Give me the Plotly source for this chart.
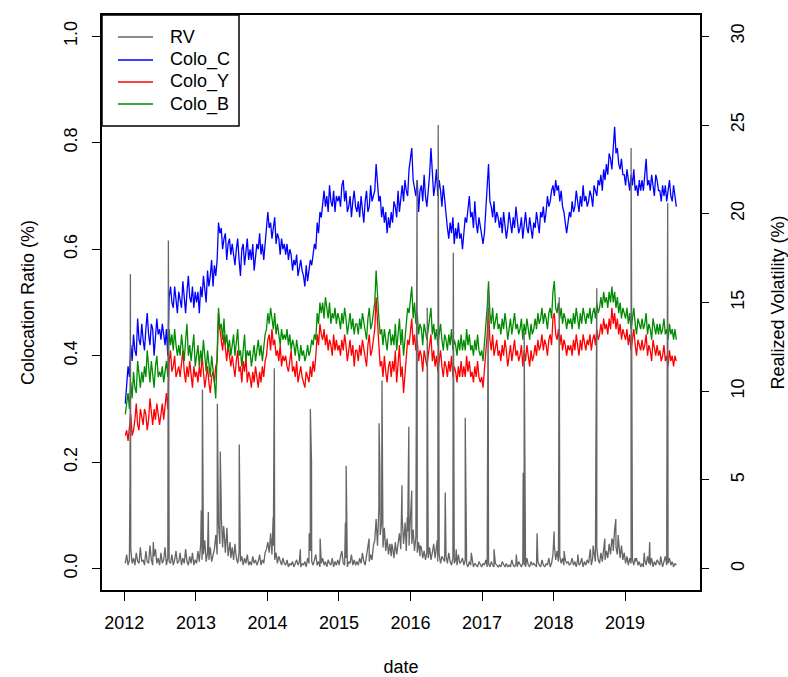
import pandas as pd
import plotly.graph_objects as go

# weekly observation dates (Fridays), 2012-01-06 .. 2019-09-20
dates = pd.date_range("2012-01-06", periods=403, freq="7D")

# Colocation ratio, Colo_C (13 weekly values per quarter, 2012Q1 .. 2019Q3)
colo_c = [
    0.31, 0.35, 0.38, 0.36, 0.42, 0.39, 0.44, 0.41, 0.40, 0.47, 0.43, 0.42, 0.46,
    0.43, 0.41, 0.45, 0.48, 0.44, 0.42, 0.46, 0.45, 0.40, 0.43, 0.47, 0.44, 0.45,
    0.43, 0.46, 0.44, 0.42, 0.45, 0.40, 0.51, 0.53, 0.50, 0.49, 0.53, 0.51, 0.48,
    0.52, 0.50, 0.49, 0.54, 0.51, 0.48, 0.52, 0.55, 0.51, 0.50, 0.53, 0.49, 0.52,
    0.50, 0.52, 0.48, 0.53, 0.51, 0.55, 0.52, 0.50, 0.56, 0.53, 0.55, 0.58, 0.53,
    0.57, 0.55, 0.58, 0.65, 0.63, 0.64, 0.60, 0.62, 0.63, 0.58, 0.61, 0.62, 0.59,
    0.61, 0.59, 0.57, 0.60, 0.62, 0.58, 0.55, 0.60, 0.61, 0.57, 0.59, 0.62, 0.58,
    0.60, 0.58, 0.61, 0.56, 0.59, 0.61, 0.60, 0.63, 0.59, 0.61, 0.58, 0.62, 0.64,
    0.67, 0.64, 0.65, 0.62, 0.64, 0.66, 0.61, 0.63, 0.62, 0.59, 0.62, 0.60, 0.61,
    0.59, 0.61, 0.58, 0.60, 0.59, 0.56, 0.58, 0.57, 0.59, 0.55, 0.57, 0.58, 0.56,
    0.55, 0.53, 0.57, 0.54, 0.56, 0.58, 0.57, 0.59, 0.61, 0.60, 0.65, 0.63, 0.67,
    0.66, 0.69, 0.71, 0.68, 0.70, 0.67, 0.72, 0.69, 0.68, 0.71, 0.67, 0.70, 0.69,
    0.70, 0.68, 0.72, 0.73, 0.69, 0.71, 0.67, 0.68, 0.70, 0.66, 0.69, 0.71, 0.68,
    0.67, 0.69, 0.66, 0.70, 0.68, 0.65, 0.69, 0.71, 0.67, 0.68, 0.72, 0.69, 0.70,
    0.71, 0.76, 0.72, 0.69, 0.70, 0.66, 0.68, 0.65, 0.67, 0.63, 0.66, 0.64, 0.67,
    0.65, 0.69, 0.68, 0.66, 0.71, 0.67, 0.70, 0.72, 0.69, 0.73, 0.71, 0.70, 0.75,
    0.77, 0.79, 0.73, 0.71, 0.70, 0.73, 0.67, 0.71, 0.72, 0.69, 0.74, 0.70, 0.68,
    0.71, 0.74, 0.79, 0.73, 0.70, 0.72, 0.75, 0.70, 0.73, 0.71, 0.68, 0.72, 0.69,
    0.67, 0.64, 0.62, 0.65, 0.63, 0.66, 0.61, 0.64, 0.62, 0.65, 0.62, 0.63, 0.60,
    0.63, 0.66, 0.65, 0.68, 0.70, 0.66, 0.67, 0.64, 0.69, 0.65, 0.63, 0.66, 0.64,
    0.62, 0.61, 0.63, 0.67, 0.70, 0.76, 0.69, 0.68, 0.66, 0.69, 0.65, 0.67, 0.66,
    0.64, 0.66, 0.63, 0.67, 0.65, 0.62, 0.64, 0.67, 0.65, 0.63, 0.66, 0.64, 0.68,
    0.66, 0.63, 0.64, 0.66, 0.62, 0.65, 0.67, 0.64, 0.63, 0.66, 0.64, 0.62, 0.65,
    0.64, 0.67, 0.65, 0.63, 0.67, 0.66, 0.68, 0.65, 0.67, 0.70, 0.68, 0.69, 0.71,
    0.72, 0.70, 0.73, 0.71, 0.72, 0.69, 0.71, 0.68, 0.67, 0.65, 0.63, 0.65, 0.67,
    0.66, 0.69, 0.67, 0.68, 0.71, 0.69, 0.67, 0.70, 0.68, 0.72, 0.69, 0.70, 0.68,
    0.69, 0.71, 0.70, 0.68, 0.72, 0.71, 0.70, 0.73, 0.72, 0.74, 0.71, 0.75, 0.73,
    0.76, 0.74, 0.78, 0.77, 0.75, 0.79, 0.83, 0.78, 0.79, 0.76, 0.75, 0.77, 0.74,
    0.74, 0.72, 0.75, 0.73, 0.71, 0.74, 0.72, 0.75, 0.71, 0.72, 0.70, 0.73, 0.71,
    0.73, 0.71, 0.74, 0.77, 0.72, 0.73, 0.71, 0.74, 0.72, 0.70, 0.74, 0.73, 0.71,
    0.71, 0.69, 0.72, 0.70, 0.72, 0.69, 0.71, 0.73, 0.70, 0.69, 0.72, 0.70, 0.68,
]

# Colo_Y
colo_y = [
    0.25, 0.26, 0.24, 0.27, 0.29, 0.25, 0.26, 0.28, 0.31, 0.27, 0.26, 0.30, 0.28,
    0.27, 0.30, 0.29, 0.26, 0.28, 0.32, 0.29, 0.27, 0.30, 0.28, 0.31, 0.29, 0.27,
    0.29, 0.31, 0.28, 0.30, 0.33, 0.30, 0.39, 0.41, 0.37, 0.38, 0.40, 0.36, 0.37,
    0.38, 0.36, 0.39, 0.41, 0.37, 0.35, 0.38, 0.36, 0.39, 0.37, 0.34, 0.38, 0.36,
    0.37, 0.35, 0.38, 0.36, 0.40, 0.37, 0.34, 0.36, 0.38, 0.35, 0.33, 0.36, 0.37,
    0.35, 0.38, 0.39, 0.48, 0.45, 0.43, 0.41, 0.44, 0.42, 0.39, 0.42, 0.40, 0.38,
    0.40, 0.38, 0.36, 0.39, 0.41, 0.37, 0.38, 0.35, 0.39, 0.37, 0.40, 0.35, 0.37,
    0.36, 0.34, 0.37, 0.35, 0.38, 0.36, 0.34, 0.37, 0.35, 0.38, 0.36, 0.39, 0.40,
    0.43, 0.44, 0.41, 0.45, 0.42, 0.43, 0.40, 0.41, 0.39, 0.42, 0.38, 0.40, 0.39,
    0.40, 0.38, 0.37, 0.39, 0.41, 0.37, 0.38, 0.36, 0.39, 0.35, 0.37, 0.38, 0.36,
    0.35, 0.34, 0.37, 0.36, 0.35, 0.38, 0.36, 0.39, 0.37, 0.40, 0.44, 0.42, 0.46,
    0.44, 0.43, 0.45, 0.42, 0.44, 0.41, 0.43, 0.42, 0.40, 0.44, 0.41, 0.43, 0.41,
    0.42, 0.40, 0.43, 0.41, 0.44, 0.42, 0.39, 0.41, 0.43, 0.40, 0.42, 0.38, 0.41,
    0.41, 0.39, 0.42, 0.40, 0.43, 0.41, 0.40, 0.38, 0.42, 0.44, 0.40, 0.41, 0.43,
    0.45, 0.51, 0.45, 0.42, 0.38, 0.39, 0.36, 0.40, 0.37, 0.35, 0.38, 0.39, 0.36,
    0.39, 0.37, 0.41, 0.35, 0.39, 0.42, 0.36, 0.38, 0.33, 0.37, 0.40, 0.43, 0.42,
    0.45, 0.47, 0.42, 0.44, 0.41, 0.43, 0.39, 0.41, 0.40, 0.37, 0.41, 0.39, 0.38,
    0.40, 0.42, 0.44, 0.39, 0.41, 0.38, 0.40, 0.37, 0.39, 0.41, 0.38, 0.36, 0.39,
    0.38, 0.36, 0.39, 0.37, 0.40, 0.36, 0.38, 0.37, 0.35, 0.38, 0.36, 0.39, 0.36,
    0.38, 0.36, 0.40, 0.37, 0.39, 0.36, 0.37, 0.35, 0.38, 0.36, 0.39, 0.36, 0.35,
    0.36, 0.34, 0.37, 0.41, 0.44, 0.49, 0.43, 0.41, 0.44, 0.40, 0.42, 0.43, 0.40,
    0.41, 0.39, 0.42, 0.40, 0.43, 0.41, 0.38, 0.40, 0.42, 0.39, 0.41, 0.43, 0.40,
    0.41, 0.39, 0.40, 0.42, 0.38, 0.41, 0.39, 0.42, 0.40, 0.38, 0.41, 0.39, 0.40,
    0.42, 0.40, 0.43, 0.41, 0.42, 0.44, 0.41, 0.43, 0.42, 0.40, 0.43, 0.44, 0.42,
    0.47, 0.48, 0.44, 0.43, 0.45, 0.42, 0.44, 0.41, 0.43, 0.42, 0.40, 0.42, 0.41,
    0.42, 0.40, 0.43, 0.41, 0.44, 0.42, 0.40, 0.43, 0.41, 0.44, 0.42, 0.41, 0.43,
    0.42, 0.44, 0.41, 0.43, 0.44, 0.42, 0.45, 0.43, 0.44, 0.46, 0.44, 0.47, 0.45,
    0.46, 0.44, 0.47, 0.45, 0.49, 0.46, 0.48, 0.45, 0.47, 0.44, 0.46, 0.43, 0.45,
    0.44, 0.43, 0.45, 0.42, 0.44, 0.41, 0.43, 0.45, 0.42, 0.40, 0.43, 0.42, 0.41,
    0.43, 0.41, 0.42, 0.44, 0.40, 0.42, 0.41, 0.39, 0.43, 0.41, 0.40, 0.42, 0.40,
    0.41, 0.39, 0.40, 0.42, 0.39, 0.40, 0.38, 0.41, 0.39, 0.40, 0.38, 0.40, 0.39,
]

# Colo_B
colo_b = [
    0.29, 0.31, 0.33, 0.30, 0.35, 0.32, 0.37, 0.34, 0.33, 0.39, 0.36, 0.34, 0.37,
    0.35, 0.38, 0.36, 0.41, 0.37, 0.35, 0.39, 0.36, 0.34, 0.38, 0.40, 0.36, 0.37,
    0.36, 0.38, 0.35, 0.37, 0.39, 0.36, 0.45, 0.42, 0.44, 0.41, 0.45, 0.42, 0.40,
    0.42, 0.40, 0.44, 0.41, 0.39, 0.43, 0.46, 0.40, 0.42, 0.39, 0.41, 0.44, 0.38,
    0.40, 0.42, 0.38, 0.41, 0.39, 0.43, 0.40, 0.37, 0.41, 0.39, 0.36, 0.40, 0.38,
    0.35, 0.32, 0.41, 0.49, 0.45, 0.46, 0.43, 0.47, 0.42, 0.44, 0.41, 0.43, 0.40,
    0.42, 0.44, 0.40, 0.43, 0.45, 0.40, 0.41, 0.38, 0.42, 0.44, 0.39, 0.41, 0.40,
    0.41, 0.38, 0.40, 0.42, 0.39, 0.41, 0.43, 0.40, 0.42, 0.39, 0.42, 0.44, 0.45,
    0.48, 0.46, 0.49, 0.47, 0.45, 0.48, 0.44, 0.46, 0.44, 0.42, 0.45, 0.43, 0.44,
    0.43, 0.45, 0.42, 0.44, 0.41, 0.43, 0.42, 0.40, 0.43, 0.41, 0.39, 0.42, 0.40,
    0.41, 0.39, 0.40, 0.42, 0.40, 0.41, 0.43, 0.42, 0.44, 0.43, 0.48, 0.46, 0.50,
    0.48, 0.50, 0.47, 0.51, 0.49, 0.47, 0.50, 0.46, 0.48, 0.47, 0.49, 0.46, 0.48,
    0.47, 0.45, 0.48, 0.46, 0.49, 0.47, 0.44, 0.46, 0.48, 0.45, 0.47, 0.44, 0.46,
    0.46, 0.44, 0.47, 0.45, 0.48, 0.46, 0.45, 0.43, 0.47, 0.49, 0.45, 0.46, 0.48,
    0.50, 0.56, 0.50, 0.47, 0.44, 0.45, 0.42, 0.45, 0.43, 0.41, 0.44, 0.45, 0.42,
    0.44, 0.42, 0.46, 0.41, 0.44, 0.47, 0.42, 0.45, 0.40, 0.43, 0.46, 0.49, 0.48,
    0.50, 0.53, 0.47, 0.50, 0.46, 0.48, 0.44, 0.46, 0.45, 0.42, 0.46, 0.44, 0.43,
    0.45, 0.47, 0.49, 0.44, 0.46, 0.43, 0.45, 0.42, 0.44, 0.46, 0.43, 0.41, 0.44,
    0.43, 0.41, 0.44, 0.42, 0.45, 0.41, 0.43, 0.42, 0.40, 0.43, 0.41, 0.44, 0.41,
    0.43, 0.41, 0.45, 0.42, 0.44, 0.41, 0.42, 0.40, 0.43, 0.41, 0.44, 0.41, 0.40,
    0.41, 0.39, 0.42, 0.46, 0.49, 0.54, 0.48, 0.46, 0.49, 0.45, 0.47, 0.48, 0.45,
    0.46, 0.44, 0.47, 0.45, 0.48, 0.46, 0.43, 0.45, 0.47, 0.44, 0.46, 0.48, 0.45,
    0.46, 0.44, 0.45, 0.47, 0.43, 0.46, 0.44, 0.47, 0.45, 0.43, 0.46, 0.44, 0.45,
    0.47, 0.45, 0.48, 0.46, 0.47, 0.49, 0.46, 0.48, 0.47, 0.45, 0.48, 0.49, 0.47,
    0.52, 0.54, 0.49, 0.48, 0.50, 0.47, 0.49, 0.46, 0.48, 0.47, 0.45, 0.47, 0.46,
    0.47, 0.45, 0.48, 0.46, 0.49, 0.47, 0.45, 0.48, 0.46, 0.49, 0.47, 0.46, 0.48,
    0.47, 0.49, 0.46, 0.48, 0.49, 0.47, 0.50, 0.48, 0.49, 0.51, 0.49, 0.52, 0.50,
    0.51, 0.49, 0.52, 0.50, 0.53, 0.50, 0.52, 0.49, 0.51, 0.48, 0.50, 0.47, 0.49,
    0.48, 0.47, 0.49, 0.46, 0.48, 0.45, 0.47, 0.49, 0.46, 0.44, 0.47, 0.46, 0.45,
    0.47, 0.45, 0.46, 0.48, 0.44, 0.46, 0.45, 0.43, 0.47, 0.45, 0.44, 0.46, 0.44,
    0.46, 0.44, 0.45, 0.47, 0.44, 0.45, 0.43, 0.46, 0.44, 0.45, 0.43, 0.45, 0.43,
]

# Realized volatility (%) weekly background level
rv_base = [
    0.3, 0.8, 0.2, 0.5, 1.1, 0.3, 0.6, 0.2, 0.9, 0.4, 0.3, 1.2, 0.4,
    0.5, 0.2, 1.0, 0.4, 0.3, 1.3, 0.5, 0.2, 0.7, 1.1, 0.3, 0.6, 0.2,
    0.9, 0.3, 0.5, 1.2, 0.2, 0.6, 0.4, 0.3, 0.8, 0.2, 0.5, 1.0, 0.3,
    0.4, 0.9, 0.2, 0.6, 0.3, 1.1, 0.4, 0.2, 0.7, 0.3, 0.9, 0.2, 0.5,
    0.3, 1.0, 0.4, 1.4, 0.5, 0.8, 1.6, 0.4, 0.9, 0.5, 1.2, 0.4, 0.8,
    1.1, 1.9, 0.8, 2.5, 1.4, 3.0, 1.2, 2.2, 0.9, 1.8, 0.7, 1.4, 0.6,
    1.2, 0.5, 1.4, 0.6, 0.3, 0.9, 0.4, 0.7, 0.2, 0.6, 0.3, 0.8, 0.2,
    0.4, 0.2, 0.7, 0.3, 0.5, 0.2, 0.4, 0.8, 0.2, 0.5, 0.3, 0.9, 1.1,
    1.5, 0.9, 2.0, 0.8, 1.3, 0.5, 0.9, 0.3, 0.7, 0.4, 0.2, 0.6, 0.3,
    0.2, 0.5, 0.1, 0.3, 0.2, 0.4, 0.1, 0.3, 0.5, 0.2, 0.4, 0.1, 0.3,
    0.2, 0.4, 0.1, 0.6, 0.3, 1.0, 0.4, 0.2, 0.5, 0.8, 0.2, 0.4, 0.1,
    0.3, 0.6, 0.2, 0.4, 0.1, 0.5, 0.3, 0.2, 0.6, 0.1, 0.4, 0.2, 0.5,
    0.2, 0.7, 1.0, 0.3, 0.2, 0.6, 0.1, 0.4, 0.3, 0.8, 0.2, 0.5, 0.2,
    0.4, 0.2, 0.6, 0.3, 0.9, 0.4, 0.2, 0.7, 1.1, 0.4, 0.8, 0.5, 1.3,
    1.6, 2.8, 1.3, 3.4, 1.9, 2.6, 1.2, 2.3, 1.0, 1.7, 0.8, 1.4, 0.7,
    1.2, 0.6, 1.5, 0.8, 1.3, 2.0, 1.1, 2.9, 1.4, 2.4, 1.0, 2.1, 1.3,
    2.6, 1.4, 2.2, 1.0, 1.8, 0.9, 1.5, 0.7, 1.2, 0.6, 1.0, 0.5, 0.9,
    0.6, 1.2, 0.5, 0.9, 1.4, 0.6, 1.1, 0.4, 0.8, 0.3, 0.7, 0.5, 0.4,
    0.7, 0.3, 0.9, 0.4, 0.2, 0.6, 0.3, 0.5, 0.2, 0.8, 0.3, 0.4, 0.6,
    0.2, 0.5, 0.3, 0.1, 0.4, 0.2, 0.6, 0.1, 0.3, 0.2, 0.1, 0.4, 0.2,
    0.1, 0.3, 0.2, 0.5, 0.1, 0.3, 0.1, 0.4, 0.2, 0.1, 0.3, 0.2, 0.1,
    0.2, 0.1, 0.4, 0.2, 0.1, 0.3, 0.1, 0.2, 0.1, 0.5, 0.2, 0.1, 0.3,
    0.1, 0.4, 0.2, 0.1, 0.3, 0.2, 0.1, 0.6, 0.2, 0.1, 0.4, 0.2, 0.3,
    0.2, 0.1, 0.4, 0.2, 0.1, 0.5, 0.2, 0.1, 0.3, 0.2, 0.6, 0.1, 0.3,
    0.8, 1.3, 0.5, 1.0, 0.4, 0.7, 0.3, 0.6, 0.2, 0.5, 0.3, 0.4, 0.2,
    0.3, 0.6, 0.2, 0.4, 0.1, 0.5, 0.2, 0.3, 0.6, 0.1, 0.4, 0.2, 0.5,
    0.3, 0.8, 0.2, 0.6, 1.0, 0.4, 1.2, 0.5, 0.3, 0.9, 0.4, 1.1, 0.5,
    1.0, 0.6, 1.4, 0.8, 1.7, 1.0, 2.2, 1.2, 0.8, 1.6, 0.6, 1.3, 0.5,
    0.9, 0.3, 0.7, 0.2, 0.6, 0.3, 0.5, 0.2, 0.4, 0.6, 0.2, 0.4, 0.1,
    0.3, 0.1, 0.5, 0.2, 0.7, 0.3, 0.2, 0.6, 0.1, 0.4, 0.2, 0.5, 0.3,
    0.2, 0.5, 0.1, 0.4, 0.7, 0.2, 0.3, 0.6, 0.2, 0.4, 0.1, 0.3, 0.2,
]

# Realized volatility daily spikes
rv_spike_dates = [
    "2012-01-30", "2012-02-01", "2012-05-28", "2012-08-13",
    "2013-01-28", "2013-02-03", "2013-03-05", "2013-04-20", "2013-05-05",
    "2013-05-10", "2013-05-22", "2013-06-08", "2013-06-24", "2013-08-10",
    "2014-01-30", "2014-02-05", "2014-06-18", "2014-08-02", "2014-08-08",
    "2014-08-14", "2014-09-27", "2015-02-03", "2015-02-07", "2015-06-04",
    "2015-07-25", "2015-07-29", "2015-08-09", "2015-08-25", "2015-09-10",
    "2015-09-28", "2015-11-19", "2015-12-05", "2015-12-16", "2015-12-24",
    "2016-01-08", "2016-02-04", "2016-02-20", "2016-03-27", "2016-05-17",
    "2016-05-22", "2016-06-27", "2016-08-07", "2016-08-22", "2016-10-07",
    "2016-11-07", "2017-02-01", "2017-03-03", "2017-06-25", "2017-07-30",
    "2017-08-04", "2017-10-09", "2018-01-04", "2018-01-30", "2018-02-24",
    "2018-05-05", "2018-07-08", "2018-07-22", "2018-08-05", "2018-08-10",
    "2018-09-20", "2018-10-30", "2018-11-15", "2018-11-27", "2019-02-01",
    "2019-02-21", "2019-04-09", "2019-05-07", "2019-07-02", "2019-08-02",
    "2019-08-07",
]
rv_spike_vals = [
    5.0, 16.6, 1.5, 18.5,
    3.3, 10.1, 3.2, 9.3, 6.6,
    3.7, 2.4, 2.3, 1.5, 7.0,
    2.9, 11.3, 1.1, 2.0, 9.0,
    6.0, 1.7, 2.6, 5.8, 1.7,
    8.2, 5.8, 10.6, 1.5, 1.2,
    1.4, 4.7, 2.6, 2.9, 8.0,
    4.4, 21.9, 1.3, 14.7, 1.6,
    25.0, 4.3, 17.8, 1.1, 8.5,
    0.9, 15.7, 1.1, 0.8, 5.4,
    13.3, 2.0, 2.1, 15.3, 1.0,
    0.8, 1.1, 1.3, 6.2, 15.8,
    1.7, 1.6, 2.8, 1.9, 23.7,
    0.6, 0.9, 1.5, 0.7, 1.9,
    20.6,
]

# legend entries (drawn as a boxed key in the top-left corner)
legend_names = ["RV", "Colo_C", "Colo_Y", "Colo_B"]
legend_colors = ["#666666", "#0000FF", "#FF0000", "#008B00"]

rv_df = pd.concat([
    pd.DataFrame({"date": dates, "rv": rv_base}),
    pd.DataFrame({"date": pd.to_datetime(rv_spike_dates), "rv": rv_spike_vals}),
]).sort_values("date")

FONT = "Liberation Sans, Arial, Helvetica, sans-serif"
FS = 18
LW = 1.3
W, H = 788, 677
ML, MR, MT, MB = 102, 88, 15, 87
PW, PH = W - ML - MR, H - MT - MB


def px_x(px):
    return (px - ML) / PW


def px_y(py):
    return (H - MB - py) / PH


fig = go.Figure()
fig.add_trace(go.Scatter(x=dates, y=colo_c, mode="lines", name="Colo_C",
                         line=dict(color=legend_colors[1], width=LW)))
fig.add_trace(go.Scatter(x=dates, y=colo_y, mode="lines", name="Colo_Y",
                         line=dict(color=legend_colors[2], width=LW)))
fig.add_trace(go.Scatter(x=dates, y=colo_b, mode="lines", name="Colo_B",
                         line=dict(color=legend_colors[3], width=LW)))
fig.add_trace(go.Scatter(x=rv_df["date"], y=rv_df["rv"], mode="lines", name="RV",
                         line=dict(color=legend_colors[0], width=LW), yaxis="y2"))

# legend key box
shapes = [dict(type="rect", xref="paper", yref="paper",
               x0=px_x(102), x1=px_x(239), y0=px_y(126), y1=px_y(15),
               line=dict(color="black", width=1.5), fillcolor="white", layer="above")]
annotations = []
row_y = [37, 60, 82, 104]
for name, col, ry in zip(legend_names, legend_colors, row_y):
    shapes.append(dict(type="line", xref="paper", yref="paper",
                       x0=px_x(118), x1=px_x(153), y0=px_y(ry), y1=px_y(ry),
                       line=dict(color=col, width=1.5), layer="above"))
    annotations.append(dict(xref="paper", yref="paper", x=px_x(168), y=px_y(ry),
                            xanchor="left", yanchor="middle", text=name,
                            showarrow=False, font=dict(size=FS, color="black")))

fig.update_layout(
    width=W, height=H,
    margin=dict(l=ML, r=MR, t=MT, b=MB),
    paper_bgcolor="white", plot_bgcolor="white",
    font=dict(family=FONT, size=FS, color="black"),
    showlegend=False,
    shapes=shapes,
    annotations=annotations,
    xaxis=dict(
        range=["2011-09-09", "2020-01-19"],
        tickmode="array",
        tickvals=["2012-01-01", "2013-01-01", "2014-01-01", "2015-01-01",
                  "2016-01-01", "2017-01-01", "2018-01-01", "2019-01-01"],
        ticktext=["2012", "2013", "2014", "2015", "2016", "2017", "2018", "2019"],
        ticks="outside", ticklen=9, tickwidth=1, tickcolor="black",
        showline=True, linecolor="black", linewidth=2, mirror=True,
        showgrid=False, zeroline=False, automargin=False,
        ticklabelstandoff=6,
        title=dict(text="date", standoff=35, font=dict(size=FS)),
    ),
    yaxis=dict(
        range=[-0.04, 1.04],
        tickvals=[0.0, 0.2, 0.4, 0.6, 0.8, 1.0],
        ticktext=["0.0", "0.2", "0.4", "0.6", "0.8", "1.0"],
        tickangle=-90,
        ticks="outside", ticklen=8, tickwidth=1, tickcolor="black",
        showline=True, linecolor="black", linewidth=2, mirror=True,
        showgrid=False, zeroline=False, automargin=False,
        ticklabelstandoff=8,
        title=dict(text="Colocation Ratio (%)", standoff=21, font=dict(size=FS)),
    ),
    yaxis2=dict(
        range=[-1.2, 31.2],
        overlaying="y", side="right",
        tickvals=[0, 5, 10, 15, 20, 25, 30],
        tickangle=-90,
        ticks="outside", ticklen=8, tickwidth=1, tickcolor="black",
        showline=False, showgrid=False, zeroline=False, automargin=False,
        ticklabelstandoff=13,
        title=dict(text="Realized Volatility (%)", standoff=27, font=dict(size=FS)),
    ),
)

fig.write_html("out.html")
